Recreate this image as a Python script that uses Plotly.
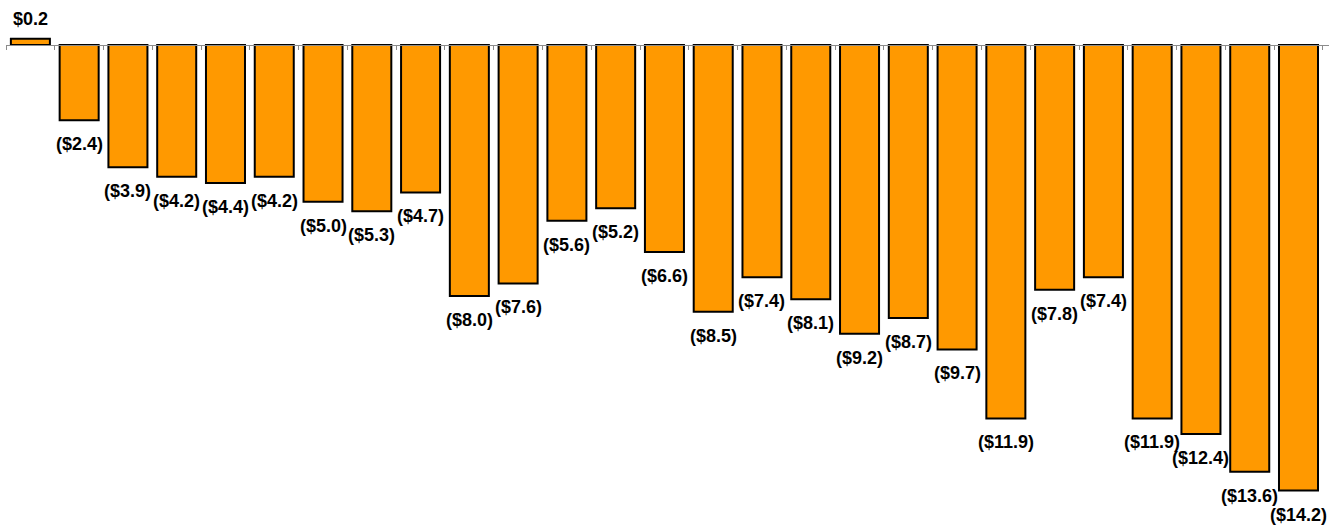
import plotly.graph_objects as go

categories = [f"C{i+1}" for i in range(27)]
values = [0.2, -2.4, -3.9, -4.2, -4.4, -4.2, -5.0, -5.3, -4.7, -8.0, -7.6, -5.6, -5.2,
          -6.6, -8.5, -7.4, -8.1, -9.2, -8.7, -9.7, -11.9, -7.8, -7.4, -11.9, -12.4,
          -13.6, -14.2]
labels = [f"${v:.1f}" if v >= 0 else f"(${abs(v):.1f})" for v in values]

ymin, ymax = -15.2, 1.4
FONT = "Liberation Sans Narrow, Arial Narrow, Liberation Sans, Arial"

fig = go.Figure()
fig.add_trace(go.Bar(
    x=categories, y=values,
    marker=dict(color="#FF9900", line=dict(color="black", width=2)),
    cliponaxis=False,
))

annotations = []
for c, v, t in zip(categories, values, labels):
    annotations.append(dict(
        x=c, y=v, text=f"<b>{t}</b>", showarrow=False,
        yanchor="bottom" if v >= 0 else "top",
        yshift=8 if v >= 0 else -12,
        font=dict(family=FONT, size=18, color="black"),
    ))

fig.update_layout(
    width=1338, height=529,
    margin=dict(l=6, r=9, t=1, b=7),
    paper_bgcolor="white", plot_bgcolor="white",
    bargap=0.2, showlegend=False,
    annotations=annotations,
    xaxis=dict(
        type="category", showticklabels=False, showgrid=False, zeroline=False,
        showline=True, linecolor="#8c8c8c", linewidth=1,
        ticks="outside", ticklen=4, tickcolor="#8c8c8c", tickson="boundaries",
        anchor="free", position=(0 - ymin) / (ymax - ymin),
    ),
    yaxis=dict(range=[ymin, ymax], visible=False, showgrid=False, zeroline=False),
)

fig.write_html("out.html")
